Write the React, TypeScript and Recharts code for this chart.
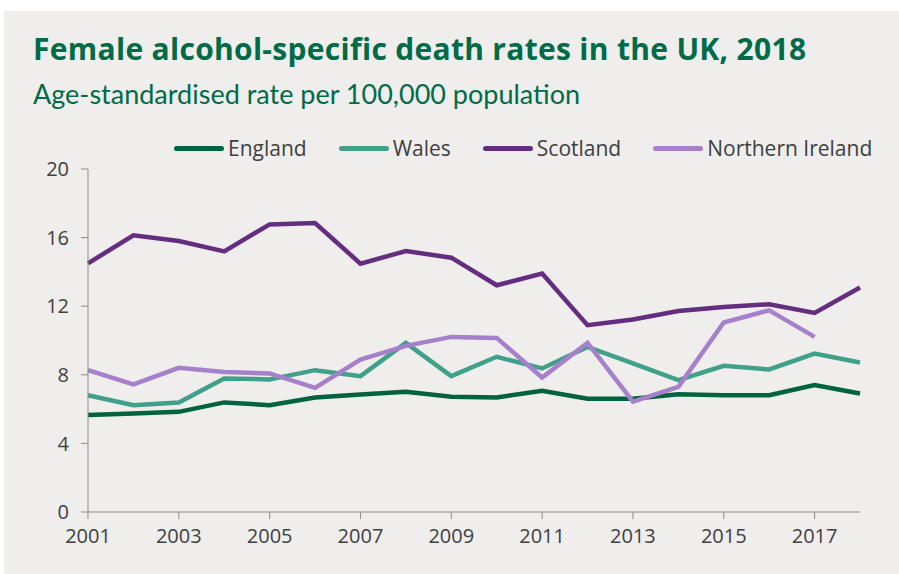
import React from "react";
import { LineChart, Line, XAxis, YAxis } from "recharts";

const years = [2001, 2002, 2003, 2004, 2005, 2006, 2007, 2008, 2009, 2010, 2011, 2012, 2013, 2014, 2015, 2016, 2017, 2018];
const england = [5.65, 5.75, 5.84, 6.39, 6.23, 6.68, 6.85, 7.01, 6.72, 6.68, 7.07, 6.6, 6.6, 6.87, 6.81, 6.81, 7.4, 6.91];
const wales = [6.81, 6.23, 6.39, 7.79, 7.73, 8.27, 7.92, 9.86, 7.92, 9.05, 8.37, 9.63, 8.66, 7.69, 8.52, 8.31, 9.24, 8.72];
const scotland = [14.5, 16.13, 15.8, 15.2, 16.77, 16.85, 14.48, 15.22, 14.83, 13.22, 13.9, 10.89, 11.22, 11.72, 11.96, 12.11, 11.61, 13.09];
const northernIreland = [8.27, 7.44, 8.41, 8.17, 8.08, 7.24, 8.89, 9.69, 10.21, 10.15, 7.84, 9.86, 6.43, 7.3, 11.05, 11.76, 10.21, null];

const xTicks = [2001, 2003, 2005, 2007, 2009, 2011, 2013, 2015, 2017];
const yTicks = [0, 4, 8, 12, 16, 20];

const series = [
  { key: "England", values: england, color: "#00633f" },
  { key: "Wales", values: wales, color: "#41a08a" },
  { key: "Scotland", values: scotland, color: "#652d80" },
  { key: "Northern Ireland", values: northernIreland, color: "#a680cb" }
];

const data = years.map((year, i) => {
  const row: Record<string, number | null> = { year };
  series.forEach((s) => {
    row[s.key] = s.values[i];
  });
  return row;
});

const axisColor = "#8c8c8c";
const textColor = "#404040";
const titleColor = "#006b47";

function ChartLegend() {
  return (
    <div
      style={{
        position: "absolute",
        left: 174,
        top: 134,
        display: "flex",
        alignItems: "center",
        whiteSpace: "nowrap",
        fontFamily: "'Open Sans', sans-serif",
        fontSize: 21,
        color: textColor
      }}
    >
      {series.map((s) => (
        <div key={s.key} style={{ display: "flex", alignItems: "center", marginRight: 32 }}>
          <span style={{ display: "inline-block", width: 50, height: 5, borderRadius: 3, background: s.color, marginRight: 4 }} />
          <span>{s.key}</span>
        </div>
      ))}
    </div>
  );
}

export default function App() {
  return (
    <div style={{ position: "absolute", left: 0, top: 0, width: 899, height: 574, background: "#ffffff", overflow: "hidden" }}>
      <div style={{ position: "absolute", left: 4, top: 11, right: 0, bottom: 0, background: "#efeeec" }} />
      <div
        style={{
          position: "absolute",
          left: 33,
          top: 28,
          fontFamily: "'Open Sans', sans-serif",
          fontWeight: 700,
          fontSize: 30,
          letterSpacing: 0.3,
          color: titleColor,
          whiteSpace: "nowrap"
        }}
      >
        Female alcohol-specific death rates in the UK, 2018
      </div>
      <div
        style={{
          position: "absolute",
          left: 33,
          top: 77,
          fontFamily: "Lato, sans-serif",
          fontSize: 27,
          color: titleColor,
          whiteSpace: "nowrap"
        }}
      >
        Age-standardised rate per 100,000 population
      </div>
      <ChartLegend />
      <div style={{ position: "absolute", left: 0, top: 0 }}>
        <LineChart width={899} height={574} data={data} margin={{ top: 169, right: 39, bottom: 22, left: 28 }}>
          <XAxis
            dataKey="year"
            type="number"
            domain={[2001, 2018]}
            ticks={xTicks}
            interval={0}
            height={40}
            stroke={axisColor}
            tickSize={7}
            tickMargin={10}
            tick={{ fill: textColor, fontSize: 20, fontFamily: "'Open Sans', sans-serif" }}
          />
          <YAxis
            type="number"
            domain={[0, 20]}
            ticks={yTicks}
            interval={0}
            width={60}
            stroke={axisColor}
            tickSize={7}
            tickMargin={12}
            tick={{ fill: textColor, fontSize: 20, fontFamily: "'Open Sans', sans-serif" }}
          />
          {series.map((s) => (
            <Line
              key={s.key}
              dataKey={s.key}
              stroke={s.color}
              strokeWidth={4.5}
              dot={false}
              activeDot={false}
              strokeLinejoin="miter"
              isAnimationActive={false}
            />
          ))}
        </LineChart>
      </div>
    </div>
  );
}
